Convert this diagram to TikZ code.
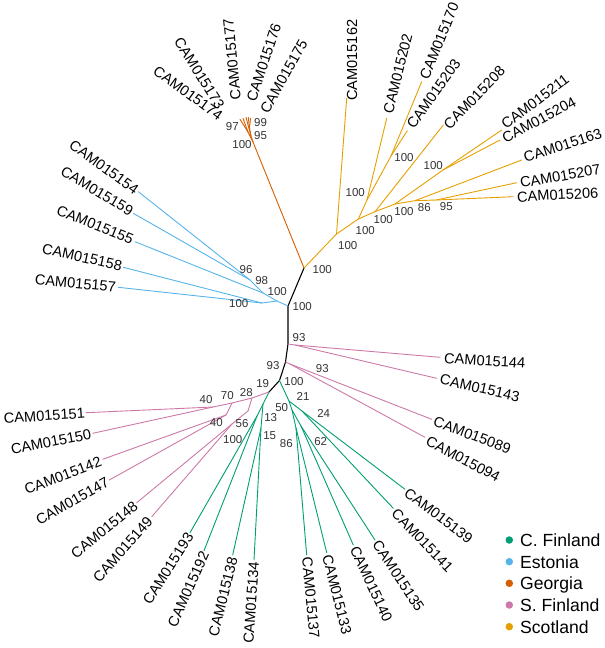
\documentclass[tikz,border=0pt]{standalone}
\usepackage{fontspec}
\setmainfont{Liberation Sans}
\definecolor{cfin}{HTML}{009E73}
\definecolor{est}{HTML}{56B4E9}
\definecolor{geo}{HTML}{D55E00}
\definecolor{sfin}{HTML}{CC79A7}
\definecolor{sco}{HTML}{E69F00}
\definecolor{bsgray}{HTML}{333333}
\begin{document}
\begin{tikzpicture}[x=1pt,y=-1pt,
  edge/.style={line width=0.9pt, line cap=round, line join=round},
  tipR/.style={anchor=west, inner sep=0pt, font=\fontsize{14.6}{16}\selectfont},
  tipL/.style={anchor=east, inner sep=0pt, font=\fontsize{14.6}{16}\selectfont},
  bs/.style={inner sep=0pt, text=bsgray, font=\fontsize{11.5}{13}\selectfont},
  leg/.style={anchor=base west, inner sep=0pt, font=\fontsize{17.6}{19}\selectfont},
  dot/.style={circle, inner sep=0pt, minimum size=7.5pt}]
\useasboundingbox (0,0) rectangle (605,648);
% backbone
\coordinate (A) at (304,268);
\coordinate (B) at (288,306);
\coordinate (C) at (288,344);
\coordinate (D) at (285.5,362);
\coordinate (F) at (279.5,380.5);
\coordinate (G) at (269,392);
% Estonia
\coordinate (S1) at (277,301);
\coordinate (S2) at (263,293);
\coordinate (S3) at (250,280);
\coordinate (S5) at (262,303);
\coordinate (e154) at (138.3,191.7);
\coordinate (e159) at (133.3,213.3);
\coordinate (e155) at (135,241.7);
\coordinate (e158) at (123.3,267.3);
\coordinate (e157) at (118.3,287.3);
% Georgia
\coordinate (Gn) at (253,142);
\coordinate (G95) at (251,136);
\coordinate (G97) at (248,132);
\coordinate (G99) at (249.5,128);
\coordinate (g174) at (240,119.3);
\coordinate (g173) at (243,118.3);
\coordinate (g177) at (246,117.3);
\coordinate (g176) at (248.3,117.3);
\coordinate (g175) at (250.5,118.3);
% Scotland
\coordinate (Y1) at (336.5,234);
\coordinate (Y2) at (358.3,219);
\coordinate (Y202) at (367,200);
\coordinate (Y170) at (391,156);
\coordinate (Y3) at (375,211.7);
\coordinate (Y4) at (395,204);
\coordinate (Y211) at (443,170);
\coordinate (Y5) at (415,200.7);
\coordinate (Y6) at (436,200);
\coordinate (s162) at (346.7,98.3);
\coordinate (s202) at (386.7,118.3);
\coordinate (s170) at (421.7,81.7);
\coordinate (s203) at (407.3,130.7);
\coordinate (s208) at (443.3,125);
\coordinate (s211) at (501.7,130);
\coordinate (s204) at (500,140);
\coordinate (s163) at (521.7,160);
\coordinate (s207) at (516.7,182.7);
\coordinate (s206) at (513.3,196.7);
% S. Finland right
\coordinate (Cp) at (295,345);
\coordinate (E) at (290,364);
\coordinate (p144) at (440,357.3);
\coordinate (p143) at (436.7,378.3);
\coordinate (p089) at (431.7,419.3);
\coordinate (p094) at (425,437.3);
% C. Finland right
\coordinate (R21) at (289,401);
\coordinate (R50) at (292,410);
\coordinate (R86) at (296,428);
\coordinate (R62) at (301,426);
\coordinate (R24) at (302,411);
\coordinate (c137) at (306.7,555);
\coordinate (c133) at (326.7,552.7);
\coordinate (c140) at (353.3,545);
\coordinate (c135) at (375,540);
\coordinate (c141) at (393.3,508.3);
\coordinate (c139) at (405,489.3);
% C. Finland left
\coordinate (Q13) at (263,404);
\coordinate (Qa) at (257,416);
\coordinate (Q15) at (261,428);
\coordinate (c193) at (190,532.7);
\coordinate (c192) at (204,550.7);
\coordinate (c138) at (232.7,555);
\coordinate (c134) at (254,560);
% S. Finland left
\coordinate (P28) at (252,398);
\coordinate (P70) at (232,403);
\coordinate (P40a) at (213,407);
\coordinate (P40b) at (226,415);
\coordinate (P56) at (248,411);
\coordinate (P100) at (232,424);
\coordinate (p151) at (86,412.7);
\coordinate (p150) at (92.7,433.3);
\coordinate (p142) at (102.7,459.3);
\coordinate (p147) at (109.3,480);
\coordinate (p148) at (136.7,502.7);
\coordinate (p149) at (151.7,516.7);

% edges
\draw[edge, line width=1.1pt, black] (A) -- (B) -- (C) -- (D) -- (F) -- (G);
\draw[edge, est] (B) -- (S1) -- (S2) -- (S3) -- (e154);
\draw[edge, est] (S3) -- (e159);
\draw[edge, est] (S2) -- (e155);
\draw[edge, est] (S1) -- (S5) -- (e158);
\draw[edge, est] (S5) -- (e157);
\draw[edge, geo] (A) -- (Gn) -- (G95) -- (G99) -- (g176);
\draw[edge, geo] (G99) -- (g175);
\draw[edge, geo] (G95) -- (g177);
\draw[edge, geo] (Gn) -- (G97) -- (g174);
\draw[edge, geo] (G97) -- (g173);
\draw[edge, sco] (A) -- (Y1) -- (s162);
\draw[edge, sco] (Y1) -- (Y2) -- (Y202) -- (s202);
\draw[edge, sco] (Y202) -- (Y170) -- (s170);
\draw[edge, sco] (Y170) -- (s203);
\draw[edge, sco] (Y2) -- (Y3) -- (s208);
\draw[edge, sco] (Y3) -- (Y4) -- (Y211) -- (s211);
\draw[edge, sco] (Y211) -- (s204);
\draw[edge, sco] (Y4) -- (Y5) -- (s163);
\draw[edge, sco] (Y5) -- (Y6) -- (s207);
\draw[edge, sco] (Y6) -- (s206);
\draw[edge, sfin] (C) -- (Cp) -- (p144);
\draw[edge, sfin] (Cp) -- (p143);
\draw[edge, sfin] (D) -- (E) -- (p089);
\draw[edge, sfin] (E) -- (p094);
\draw[edge, cfin] (F) -- (R21) -- (R50) -- (R86) -- (c137);
\draw[edge, cfin] (R86) -- (c133);
\draw[edge, cfin] (R50) -- (R62) -- (c140);
\draw[edge, cfin] (R62) -- (c135);
\draw[edge, cfin] (R21) -- (R24) -- (c141);
\draw[edge, cfin] (R24) -- (c139);
\draw[edge, cfin] (G) -- (Q13) -- (Qa) -- (c193);
\draw[edge, cfin] (Qa) -- (c192);
\draw[edge, cfin] (Q13) -- (Q15) -- (c138);
\draw[edge, cfin] (Q15) -- (c134);
\draw[edge, sfin] (G) -- (P28) -- (P70) -- (P40a) -- (p151);
\draw[edge, sfin] (P40a) -- (p150);
\draw[edge, sfin] (P70) -- (P40b) -- (p142);
\draw[edge, sfin] (P40b) -- (p147);
\draw[edge, sfin] (P28) -- (P56) -- (P100) -- (p148);
\draw[edge, sfin] (P100) -- (p149);

% tip labels
\node[tipR, rotate=90] (l162) at (352,101) {CAM015162};
\node[tipR, rotate=76] (l202) at (388,113) {CAM015202};
\node[tipR, rotate=68] (l170) at (424,79) {CAM015170};
\node[tipR, rotate=54.5] (l203) at (410,127) {CAM015203};
\node[tipR, rotate=46] (l208) at (446,127) {CAM015208};
\node[tipR, rotate=37] (l211) at (503,126) {CAM015211};
\node[tipR, rotate=28] (l204) at (503,139) {CAM015204};
\node[tipR, rotate=18] (l163) at (524,158) {CAM015163};
\node[tipR, rotate=9.7] (l207) at (520,183) {CAM015207};
\node[tipR, rotate=3] (l206) at (517,197) {CAM015206};
\node[tipR, rotate=95.5] (l177) at (236,100) {CAM015177};
\node[tipR, rotate=71.6] (l176) at (251,101) {CAM015176};
\node[tipR, rotate=60.7] (l175) at (264,112) {CAM015175};
\node[tipL, rotate=-36] (l174) at (221,117) {CAM015174};
\node[tipL, rotate=-58] (l173) at (221,108) {CAM015173};
\node[tipR, rotate=-3.7] (l144) at (444,358) {CAM015144};
\node[tipR, rotate=-12.8] (l143) at (440,379) {CAM015143};
\node[tipR, rotate=-20.4] (l089) at (434,421) {CAM015089};
\node[tipR, rotate=-27.8] (l094) at (427,440) {CAM015094};
\node[tipR, rotate=-37] (l139) at (406,491) {CAM015139};
\node[tipR, rotate=-46] (l141) at (394,511) {CAM015141};
\node[tipR, rotate=-56.6] (l135) at (376,542) {CAM015135};
\node[tipR, rotate=-65] (l140) at (354,547) {CAM015140};
\node[tipR, rotate=-75.7] (l133) at (327,555) {CAM015133};
\node[tipR, rotate=-84.7] (l137) at (307,557) {CAM015137};
\node[tipL, rotate=-36] (l154) at (137,191) {CAM015154};
\node[tipL, rotate=-31] (l159) at (132,212) {CAM015159};
\node[tipL, rotate=-22] (l155) at (133,240) {CAM015155};
\node[tipL, rotate=-12.5] (l158) at (122,266) {CAM015158};
\node[tipL, rotate=-5] (l157) at (116,287) {CAM015157};
\node[tipL, rotate=3.8] (l151) at (85,413) {CAM015151};
\node[tipL, rotate=11] (l150) at (91,434) {CAM015150};
\node[tipL, rotate=21] (l142) at (101,461) {CAM015142};
\node[tipL, rotate=29.3] (l147) at (108,481) {CAM015147};
\node[tipL, rotate=39.2] (l148) at (136,504) {CAM015148};
\node[tipL, rotate=48.4] (l149) at (150,519) {CAM015149};
\node[tipL, rotate=57.6] (l193) at (190,534) {CAM015193};
\node[tipL, rotate=66] (l192) at (205,552) {CAM015192};
\node[tipL, rotate=76] (l138) at (233,557) {CAM015138};
\node[tipL, rotate=86] (l134) at (254,562) {CAM015134};

% bootstrap values
\node[bs] (bG97) at (232.3,127) {97};
\node[bs] (bG99) at (260.5,123) {99};
\node[bs] (bG95) at (260.5,135.5) {95};
\node[bs] (bGn) at (242,145) {100};
\node[bs] (bA) at (322.3,270) {100};
\node[bs] (bY1) at (347.7,246) {100};
\node[bs] (bY2) at (365.3,230.7) {100};
\node[bs] (bY3) at (383.3,220) {100};
\node[bs] (bY4) at (404,212) {100};
\node[bs] (bY5) at (424.3,207.3) {86};
\node[bs] (bY6) at (446.3,206.7) {95};
\node[bs] (bY202) at (355.3,192.7) {100};
\node[bs] (bY170) at (404,158) {100};
\node[bs] (bY211) at (433.3,165.3) {100};
\node[bs] (bS3) at (246,269.3) {96};
\node[bs] (bS2) at (261.7,281) {98};
\node[bs] (bS1) at (277.3,291.3) {100};
\node[bs] (bS5) at (238.7,304) {100};
\node[bs] (bB) at (302.3,307) {100};
\node[bs] (bC) at (299,337.3) {93};
\node[bs] (bD) at (273,366) {93};
\node[bs] (bE) at (322.3,369) {93};
\node[bs] (bF) at (294,381.7) {100};
\node[bs] (bG) at (262.7,384) {19};
\node[bs] (bP28) at (246.3,392.3) {28};
\node[bs] (bP70) at (227.3,396) {70};
\node[bs] (bP40a) at (206,399.3) {40};
\node[bs] (bP40b) at (216.3,422.7) {40};
\node[bs] (bP56) at (242,423.7) {56};
\node[bs] (bP100) at (232.7,439.3) {100};
\node[bs] (bQ13) at (270.7,418) {13};
\node[bs] (bQ15) at (269.7,436) {15};
\node[bs] (bR50) at (281.7,408) {50};
\node[bs] (bR86) at (286.3,443.3) {86};
\node[bs] (bR21) at (303,396) {21};
\node[bs] (bR24) at (323.7,413.3) {24};
\node[bs] (bR62) at (320.7,441.7) {62};

% legend
\node[dot, fill=cfin] (d1) at (509.3,540) {};
\node[dot, fill=est] (d2) at (509.3,561.7) {};
\node[dot, fill=geo] (d3) at (509.3,583.3) {};
\node[dot, fill=sfin] (d4) at (509.3,605) {};
\node[dot, fill=sco] (d5) at (509.3,626.7) {};
\node[leg] (t1) at (520,546.6) {C. Finland};
\node[leg] (t2) at (520,568.3) {Estonia};
\node[leg] (t3) at (520,589.9) {Georgia};
\node[leg] (t4) at (520,611.6) {S. Finland};
\node[leg] (t5) at (520,633.3) {Scotland};
\end{tikzpicture}
\end{document}
